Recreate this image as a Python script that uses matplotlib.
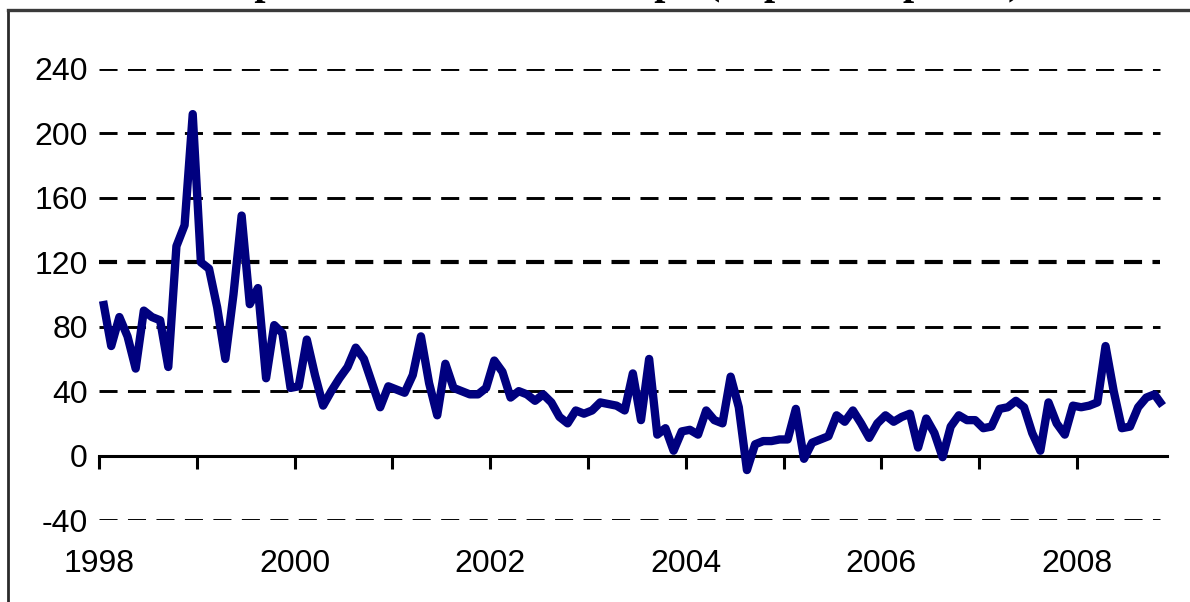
import numpy as np
import matplotlib
matplotlib.use('Agg')
from matplotlib import pyplot as plt
from matplotlib.lines import Line2D

# monthly spread, Jan 1998 - Oct 2008
start_year = 1998
spread = [
    96, 68, 86, 74, 54, 90, 86, 84, 55, 130, 143, 212,      # 1998
    120, 116, 92, 60, 100, 149, 94, 104, 48, 81, 76, 42,    # 1999
    43, 72, 50, 31, 40, 48, 55, 67, 60, 45, 30, 43,         # 2000
    41, 39, 50, 74, 45, 25, 57, 42, 40, 38, 38, 42,         # 2001
    59, 52, 36, 40, 38, 34, 38, 33, 24, 20, 28, 26,         # 2002
    28, 33, 32, 31, 28, 51, 22, 60, 13, 17, 3, 15,          # 2003
    16, 13, 28, 22, 20, 49, 30, -9, 7, 9, 9, 10,            # 2004
    10, 29, -2, 8, 10, 12, 25, 21, 28, 20, 11, 20,          # 2005
    25, 21, 24, 26, 5, 23, 14, -1, 18, 25, 22, 22,          # 2006
    17, 18, 29, 30, 34, 30, 14, 3, 33, 20, 13, 31,          # 2007
    30, 31, 33, 68, 40, 17, 18, 30, 36, 38, 31,             # 2008
]
y_ticks = [-40, 0, 40, 80, 120, 160, 200, 240]
year_ticks = list(range(1998, 2009))
year_labels = [str(y) if y % 2 == 0 else '' for y in year_ticks]
title = 'Spreads of Eastern Europa (in percent points)'

plt.rcParams['font.family'] = ['Liberation Sans', 'DejaVu Sans']
plt.rcParams['axes.unicode_minus'] = False

dates = start_year + (np.arange(len(spread)) + 0.5) / 12

fig = plt.figure(figsize=(11.9, 6.02), dpi=100)
fig.patch.set_facecolor('white')
ax = fig.add_axes([99 / 1190, 82 / 602, 1068 / 1190, 451 / 602])

# dashed grid lines, the 120 one looks heavier in the original
for v in y_ticks:
    if v == 0:
        continue
    lw = 3.0 if v == 120 else 2.1
    ax.axhline(v, xmin=0, xmax=0.993, color='black', lw=lw,
               dashes=(13 / lw, 7.5 / lw), zorder=1)

ax.plot(dates, spread, color='#00007f', lw=6, solid_joinstyle='round',
        solid_capstyle='butt', zorder=3)

ax.set_xlim(1998, 2008.92)
ax.set_ylim(-40, 240)

for s in ['left', 'right', 'top']:
    ax.spines[s].set_visible(False)
ax.spines['bottom'].set_position(('data', 0))
ax.spines['bottom'].set_linewidth(2.2)
ax.spines['bottom'].set_zorder(2)

ax.set_xticks(year_ticks)
ax.set_xticklabels(year_labels)
ax.set_yticks(y_ticks)
ax.tick_params(axis='x', direction='out', length=9.5, width=2.2, pad=58,
               labelsize=23)
ax.tick_params(axis='y', length=0, pad=8, labelsize=23)

# outer frame and clipped heading
fig.add_artist(Line2D([8 / 1190, 8 / 1190], [0, 1 - 10 / 602],
                      color='#2a2a2a', lw=2))
fig.add_artist(Line2D([8 / 1190, 1], [1 - 10 / 602, 1 - 10 / 602],
                      color='#3a3a3a', lw=2.4))
fig.text(1022 / 1190, 1 + 6 / 602, title, ha='right', va='baseline',
         family='Liberation Serif', weight='bold', fontsize=29)

plt.savefig('out.png', dpi=100)
